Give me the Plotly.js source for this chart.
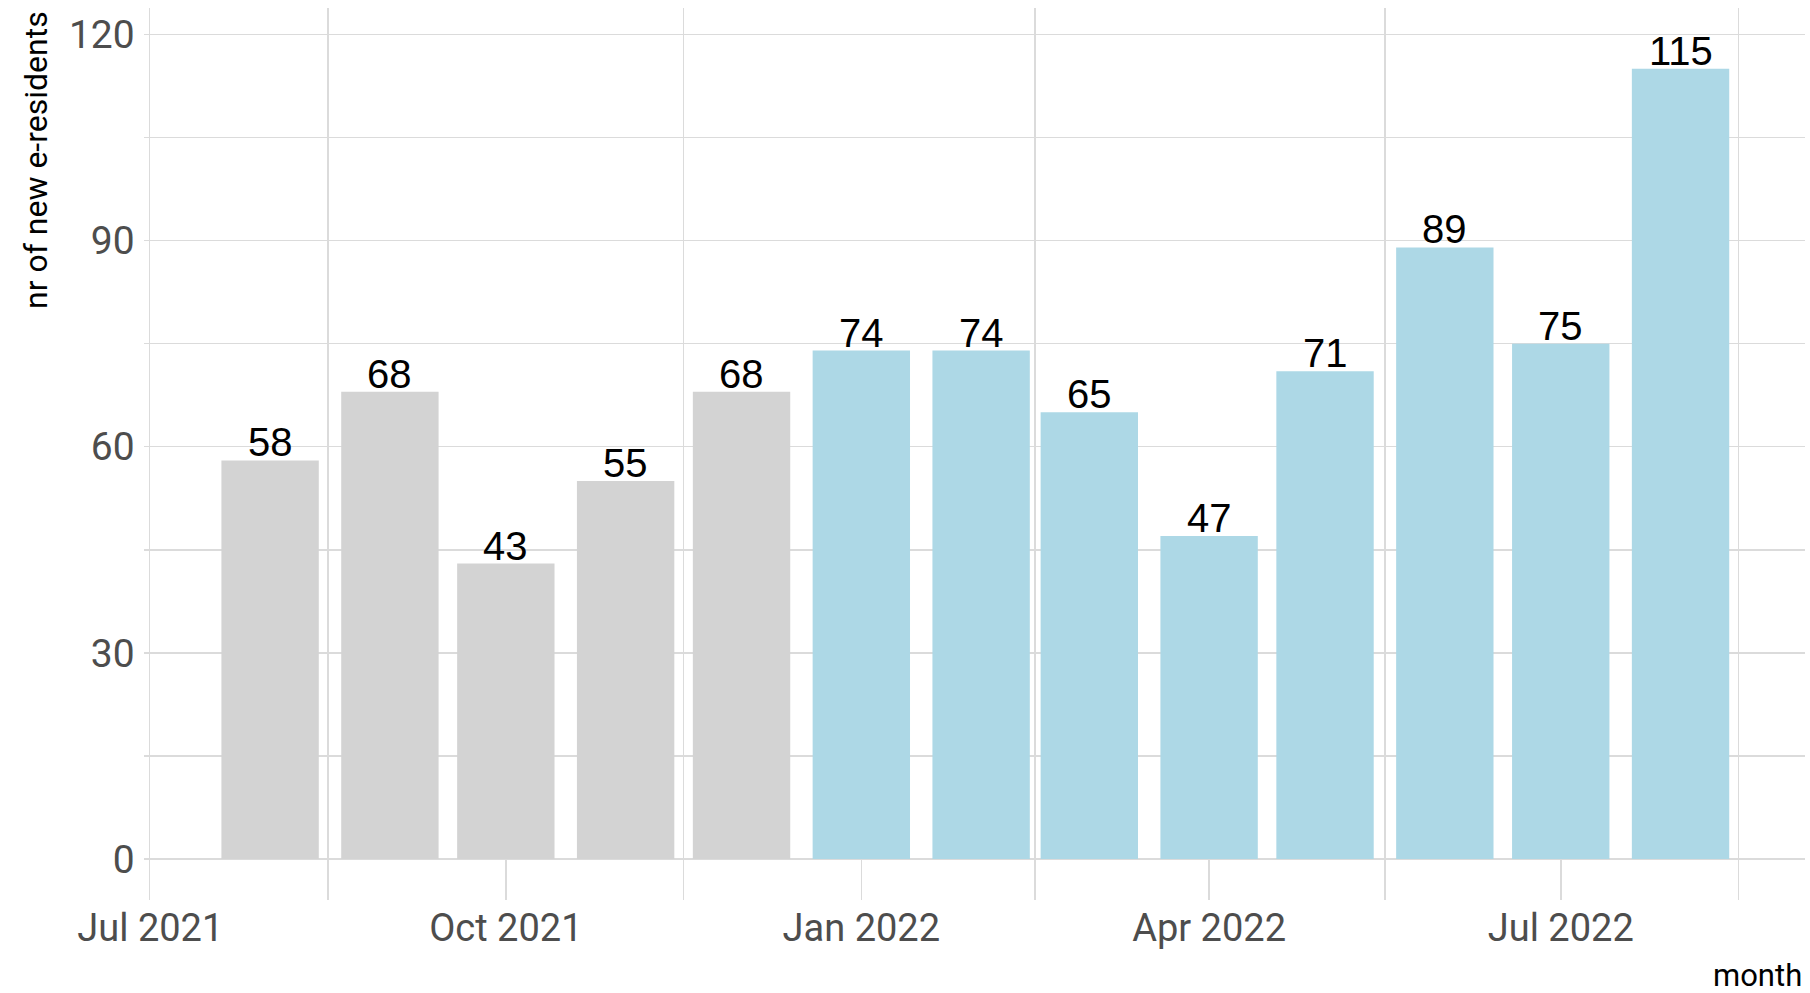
<!DOCTYPE html>
<html>
<head>
<meta charset="utf-8">
<script src="https://cdn.plot.ly/plotly-3.0.1.min.js"></script>
<style>
  html, body { margin: 0; padding: 0; background: #ffffff; }
  #chart { width: 1810px; height: 993px; }
</style>
</head>
<body>
<div id="chart"></div>
<script>
// ---- data ----
const months = ['2021-08-01','2021-09-01','2021-10-01','2021-11-01','2021-12-01',
                '2022-01-01','2022-02-01','2022-03-01','2022-04-01','2022-05-01',
                '2022-06-01','2022-07-01','2022-08-01'];
const newResidents = [58, 68, 43, 55, 68, 74, 74, 65, 47, 71, 89, 75, 115];
const period = ['2021','2021','2021','2021','2021',
                '2022','2022','2022','2022','2022','2022','2022','2022'];
const xTickVals = ['2021-07-01','2021-10-01','2022-01-01','2022-04-01','2022-07-01'];
const xTickText = ['Jul 2021','Oct 2021','Jan 2022','Apr 2022','Jul 2022'];
const xMinorVals = ['2021-08-16','2021-11-16','2022-02-15','2022-05-16 12:00','2022-08-16'];
const yTickVals = [0, 30, 60, 90, 120];
const yTickText = ['0', '30', '60', '90', '120'];
const yMinorVals = [15, 45, 75, 105];

// ---- styles ----
const periodColor = { '2021': '#D3D3D3', '2022': '#ADD8E6' };
const gridColor = '#DBDBDB';
const DAY = 86400000;

const trace = {
  type: 'bar',
  x: months,
  y: newResidents,
  width: months.map(() => 0.9 * 28 * DAY),
  marker: { color: period.map(p => periodColor[p]), line: { width: 0 } },
  hoverinfo: 'x+y'
};

const labelAnnotations = months.map((m, i) => ({
  x: m,
  y: newResidents[i],
  xref: 'x', yref: 'y',
  text: String(newResidents[i]),
  showarrow: false,
  xanchor: 'center',
  yanchor: 'bottom',
  yshift: -5,
  borderpad: 0,
  font: { family: 'Liberation Sans, Arial, sans-serif', size: 40, color: '#000000' }
}));

const layout = {
  width: 1810,
  height: 993,
  margin: { l: 150, r: 5, t: 8, b: 93, pad: 0 },
  paper_bgcolor: '#ffffff',
  plot_bgcolor: '#ffffff',
  showlegend: false,
  font: { family: 'Roboto, sans-serif', color: '#4D4D4D' },
  xaxis: {
    type: 'date',
    range: ['2021-06-30 22:00', '2022-09-02 05:00'],
    tickmode: 'array',
    tickvals: xTickVals,
    ticktext: xTickText,
    ticks: 'inside',
    ticklen: 41,
    tickwidth: 1.5,
    tickcolor: gridColor,
    showgrid: false,
    zeroline: false,
    showline: false,
    tickfont: { family: 'Roboto, sans-serif', size: 38, color: '#4D4D4D' },
    ticklabelstandoff: 2,
    minor: {
      tickmode: 'array',
      tickvals: xMinorVals,
      showgrid: true,
      gridcolor: gridColor,
      gridwidth: 1.5,
      ticks: ''
    }
  },
  yaxis: {
    range: [-5.97, 123.85],
    tickmode: 'array',
    tickvals: yTickVals,
    ticktext: yTickText,
    ticks: 'outside',
    ticklen: 5,
    tickwidth: 1.5,
    tickcolor: gridColor,
    showgrid: true,
    gridcolor: gridColor,
    gridwidth: 1.5,
    zeroline: false,
    showline: true,
    linecolor: gridColor,
    linewidth: 1.5,
    tickfont: { family: 'Roboto, sans-serif', size: 39, color: '#4D4D4D' },
    ticklabelstandoff: 1,
    minor: {
      tickmode: 'array',
      tickvals: yMinorVals,
      showgrid: true,
      gridcolor: gridColor,
      gridwidth: 1.5,
      ticks: 'outside',
      ticklen: 5,
      tickcolor: gridColor,
      tickwidth: 1.5
    }
  },
  annotations: labelAnnotations.concat([
    {
      text: 'nr of new e-residents',
      xref: 'paper', yref: 'paper',
      x: 0, y: 1,
      xshift: -114, yshift: -1,
      xanchor: 'center', yanchor: 'top',
      textangle: -90,
      showarrow: false,
      font: { family: 'Roboto, sans-serif', size: 32, color: '#000000' }
    },
    {
      text: 'month',
      xref: 'paper', yref: 'paper',
      x: 1, y: 0,
      xshift: -1, yshift: -75,
      xanchor: 'right', yanchor: 'middle',
      showarrow: false,
      font: { family: 'Roboto, sans-serif', size: 31, color: '#000000' }
    }
  ])
};

Plotly.newPlot('chart', [trace], layout, { displayModeBar: false, staticPlot: true });
</script>
</body>
</html>
